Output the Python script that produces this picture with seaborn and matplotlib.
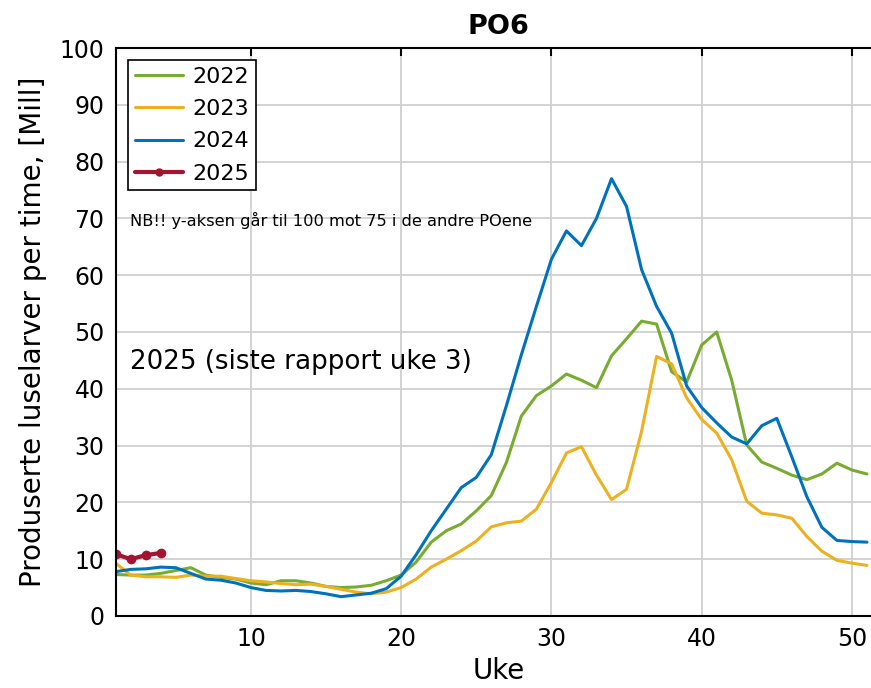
import numpy as np
import pandas as pd
import matplotlib
matplotlib.use("Agg")
import matplotlib.pyplot as plt
import seaborn as sns
from matplotlib.lines import Line2D

# ==========================================================
# DATA
# ==========================================================

weeks = list(range(1, 52))

y2022 = [7.3, 7.2, 7.2, 7.5, 8.0, 8.5, 7.2, 6.8, 6.5, 5.8,
         5.5, 6.2, 6.2, 5.8, 5.2, 5.0, 5.1, 5.4, 6.2, 7.2,
         9.5, 13.0, 15.0, 16.2, 18.5, 21.2, 27.0, 35.2, 38.8, 40.5,
         42.6, 41.5, 40.2, 45.8, 48.8, 51.9, 51.4, 43.0, 41.2, 47.7,
         50.0, 41.5, 30.1, 27.1, 26.0, 24.8, 24.0, 25.0, 26.9, 25.7,
         25.0]

y2023 = [9.3, 7.2, 6.9, 6.9, 6.8, 7.2, 7.0, 7.0, 6.6, 6.2,
         6.0, 5.7, 5.5, 5.6, 5.2, 4.7, 4.2, 3.9, 4.2, 5.0,
         6.5, 8.6, 10.0, 11.5, 13.2, 15.7, 16.4, 16.7, 18.8, 23.5,
         28.7, 29.8, 24.8, 20.5, 22.3, 32.5, 45.7, 44.4, 38.4, 34.6,
         32.2, 27.5, 20.2, 18.1, 17.8, 17.2, 14.0, 11.4, 9.8, 9.3,
         8.9]

y2024 = [7.8, 8.2, 8.3, 8.6, 8.5, 7.5, 6.5, 6.3, 5.8, 5.0,
         4.5, 4.4, 4.5, 4.3, 3.9, 3.4, 3.7, 4.0, 4.8, 7.0,
         10.8, 15.0, 18.8, 22.6, 24.4, 28.4, 37.0, 46.0, 54.5, 62.8,
         67.8, 65.2, 70.0, 77.0, 72.1, 61.0, 54.5, 49.8, 40.5, 36.7,
         34.0, 31.5, 30.3, 33.5, 34.8, 28.0, 21.0, 15.6, 13.3, 13.1,
         13.0]

weeks_2025 = [1, 2, 3, 4]
y2025 = [10.9, 10.0, 10.7, 11.1]

years = ["2022", "2023", "2024"]
series = [y2022, y2023, y2024]
colors = {"2022": "#77AC30", "2023": "#EDB120", "2024": "#0072BD", "2025": "#A2142F"}

# ==========================================================
# PLOT
# ==========================================================

sns.set_style("white")
plt.rcParams['font.family'] = ['DejaVu Sans']
plt.rcParams['text.color'] = 'black'
plt.rcParams['axes.labelcolor'] = 'black'

df = pd.DataFrame({
    "Uke": np.tile(weeks, len(years)),
    "value": np.concatenate(series),
    "year": np.repeat(years, len(weeks)),
})
df25 = pd.DataFrame({"Uke": weeks_2025, "value": y2025, "year": "2025"})

fig = plt.figure(figsize=(8.71, 6.88), dpi=100)
ax = fig.add_axes([0.1328, 0.1047, 1.0126 - 0.1328, 0.8255])

sns.lineplot(data=df, x="Uke", y="value", hue="year", palette=colors,
             linewidth=2.2, ax=ax, legend=False)
sns.lineplot(data=df25, x="Uke", y="value", color=colors["2025"],
             linewidth=3, marker="o", markersize=7, markeredgewidth=0,
             ax=ax, legend=False)

ax.set_xlim(1, 52)
ax.set_ylim(0, 100)
ax.set_xticks([10, 20, 30, 40, 50])
ax.set_yticks(np.arange(0, 101, 10))
ax.grid(True, color="#d0d0d0", linewidth=1.3)
ax.tick_params(direction="in", length=6, width=1.5, labelsize=17,
               top=True, right=False, colors="black", pad=8)
for side in ["left", "top", "bottom"]:
    ax.spines[side].set_linewidth(1.5)
    ax.spines[side].set_color("black")
ax.spines["right"].set_visible(False)

ax.set_xlabel("Uke", fontsize=20, labelpad=4, color="black")
ax.set_ylabel("Produserte luselarver per time, [Mill]", fontsize=20,
              labelpad=9, color="black")
ax.set_title("PO6", fontsize=19.5, fontweight="bold", pad=10, color="black")

ax.text(0.019, 0.697, "NB!! y-aksen går til 100 mot 75 i de andre POene",
        transform=ax.transAxes, fontsize=11.7, color="black", va="center")
ax.text(0.019, 0.447, "2025 (siste rapport uke 3)", transform=ax.transAxes,
        fontsize=18.8, color="black", va="center")

handles = [Line2D([], [], color=colors[y], linewidth=2.2) for y in years]
handles.append(Line2D([], [], color=colors["2025"], linewidth=3, marker="o",
                      markersize=6, markeredgewidth=0))
leg = ax.legend(handles, years + ["2025"], loc="upper left", fontsize=16,
                frameon=True, fancybox=False, framealpha=1,
                borderaxespad=0.55, handlelength=2.2, labelspacing=0.55,
                borderpad=0.3, handletextpad=0.4)
for t in leg.get_texts():
    t.set_color("black")
leg.get_frame().set_edgecolor("black")
leg.get_frame().set_linewidth(1.2)

fig.savefig("out.png", dpi=100)
plt.close()
